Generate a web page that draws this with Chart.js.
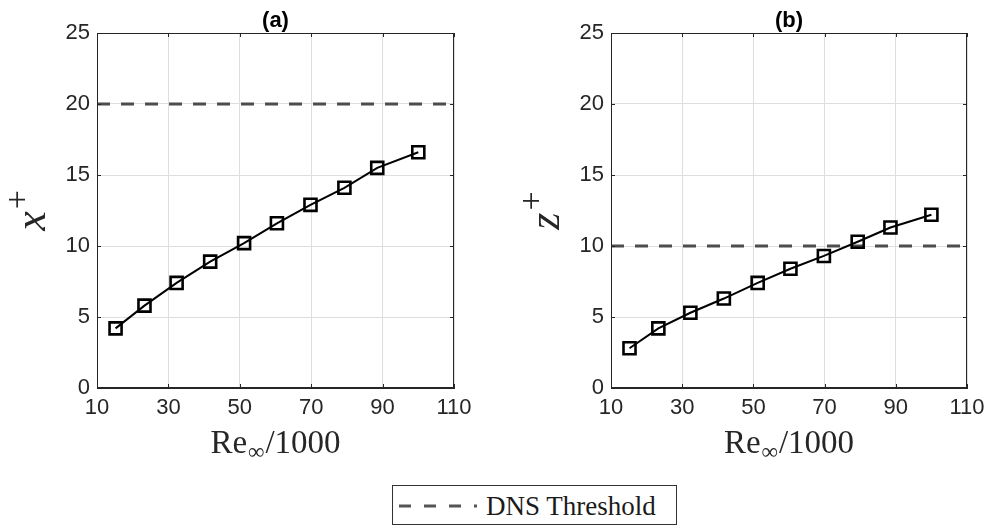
<!DOCTYPE html>
<html>
<head>
<meta charset="utf-8">
<script src="https://cdn.jsdelivr.net/npm/chart.js@4.4.1/dist/chart.umd.min.js"></script>
<style>
  html, body { margin: 0; padding: 0; background: #ffffff; }
  #wrap { position: relative; width: 992px; height: 527px; overflow: hidden; background: #fff; }
  #cA { position: absolute; left: 0; top: 0; }
  #cB { position: absolute; left: 496px; top: 0; }
  #legend { position: absolute; left: 392px; top: 485px; width: 283px; height: 38px;
            border: 1px solid #333; box-sizing: content-box; background: #fff; }
  #legend svg { position: absolute; left: 0; top: 0; }
  #legend span { position: absolute; left: 93px; top: 5px; font-family: "Liberation Serif", "Times New Roman", serif;
                 font-size: 27px; color: #1a1a1a; line-height: 30px; white-space: nowrap; }
</style>
</head>
<body>
<div id="wrap">
  <canvas id="cA" width="496" height="470"></canvas>
  <canvas id="cB" width="496" height="470"></canvas>
  <div id="legend">
    <svg width="90" height="38"><line x1="6" y1="20" x2="84" y2="20" stroke="#555555" stroke-width="3" stroke-dasharray="12,13"/></svg>
    <span>DNS Threshold</span>
  </div>
</div>
<script>
// ---- data ----
const reValues = [15.2, 23.3, 32.3, 41.7, 51.2, 60.4, 69.8, 79.3, 88.5, 100];
const xPlusValues = [4.2, 5.8, 7.4, 8.9, 10.2, 11.6, 12.9, 14.1, 15.5, 16.6];
const zPlusValues = [2.8, 4.2, 5.3, 6.3, 7.4, 8.4, 9.3, 10.3, 11.3, 12.2];
const thresholdX = 20;
const thresholdZ = 10;
const xTickValues = [10, 30, 50, 70, 90, 110];
const yTickValues = [0, 5, 10, 15, 20, 25];
const panelTitles = ['(a)', '(b)'];
const yLabelLetters = ['x', 'z'];

const AXIS = '#262626';

function overlayPlugin(title, letter) {
  return {
    id: 'overlay' + letter,
    afterDraw(chart) {
      const ctx = chart.ctx;
      const a = chart.chartArea;
      const xs = chart.scales.x, ys = chart.scales.y;
      ctx.save();
      // frame
      ctx.strokeStyle = AXIS;
      ctx.lineWidth = 1;
      ctx.strokeRect(Math.round(a.left) + 0.5, Math.round(a.top) + 0.5,
                     Math.round(a.right - a.left) - 1, Math.round(a.bottom - a.top) - 1);
      // inward ticks
      ctx.beginPath();
      xTickValues.forEach(v => {
        const px = Math.round(xs.getPixelForValue(v)) + 0.5;
        ctx.moveTo(px, a.bottom); ctx.lineTo(px, a.bottom - 4);
        ctx.moveTo(px, a.top); ctx.lineTo(px, a.top + 4);
      });
      yTickValues.forEach(v => {
        const py = Math.round(ys.getPixelForValue(v)) + 0.5;
        ctx.moveTo(a.left, py); ctx.lineTo(a.left + 4, py);
        ctx.moveTo(a.right, py); ctx.lineTo(a.right - 4, py);
      });
      ctx.stroke();
      // title
      const cx = (a.left + a.right) / 2;
      ctx.fillStyle = '#000';
      ctx.font = 'bold 22px "Liberation Sans", Arial, sans-serif';
      ctx.textAlign = 'center';
      ctx.textBaseline = 'alphabetic';
      ctx.fillText(title, cx, 27);
      // x-axis label: Re_inf/1000
      const big = '33px "Liberation Serif", "Times New Roman", serif';
      const small = '23px "Liberation Serif", "Times New Roman", serif';
      ctx.fillStyle = '#262626';
      ctx.font = big; const w1 = ctx.measureText('Re').width; const w3 = ctx.measureText('/1000').width;
      ctx.font = small; const w2 = ctx.measureText('∞').width + 2;
      const total = w1 + w2 + w3;
      let sx = cx - total / 2;
      const base = 453;
      ctx.textAlign = 'left';
      ctx.font = big; ctx.fillText('Re', sx, base);
      ctx.font = small; ctx.fillText('∞', sx + w1 + 1, base + 6);
      ctx.font = big; ctx.fillText('/1000', sx + w1 + w2, base);
      // y-axis label: letter^+
      const cy = (a.top + a.bottom) / 2;
      ctx.translate(a.left - 52, cy);
      ctx.rotate(-Math.PI / 2);
      ctx.font = 'italic 44px "Liberation Serif", "Times New Roman", serif';
      const lw = ctx.measureText(letter).width;
      ctx.font = '34px "Liberation Serif", "Times New Roman", serif';
      const pw = ctx.measureText('+').width;
      const tw = lw + pw + 2;
      ctx.font = 'italic 44px "Liberation Serif", "Times New Roman", serif';
      ctx.fillText(letter, -tw / 2, 0);
      ctx.font = '34px "Liberation Serif", "Times New Roman", serif';
      ctx.fillText('+', -tw / 2 + lw + 2, -17);
      ctx.restore();
    }
  };
}

function makeChart(id, values, threshold, title, letter, yWidth, rightPad) {
  const pts = reValues.map((x, i) => ({ x: x, y: values[i] }));
  const thr = [{ x: xTickValues[0], y: threshold }, { x: xTickValues[xTickValues.length - 1], y: threshold }];
  return new Chart(document.getElementById(id), {
    type: 'scatter',
    data: {
      datasets: [
        {
          label: 'data',
          data: pts,
          showLine: true,
          borderColor: '#000',
          borderWidth: 2,
          pointStyle: 'rect',
          pointRadius: 8.5,
          pointBorderWidth: 2.6,
          pointBackgroundColor: 'rgba(0,0,0,0)',
          pointBorderColor: '#000',
          order: 1
        },
        {
          label: 'DNS Threshold',
          data: thr,
          showLine: true,
          borderColor: '#4d4d4d',
          borderWidth: 3,
          borderDash: [13, 11],
          pointRadius: 0,
          order: 2
        }
      ]
    },
    options: {
      responsive: false,
      animation: false,
      devicePixelRatio: 1,
      layout: { padding: { top: 33, right: rightPad, left: 0, bottom: 0 } },
      plugins: { legend: { display: false }, tooltip: { enabled: false }, title: { display: false } },
      scales: {
        x: {
          type: 'linear', min: 10, max: 110,
          afterBuildTicks(s) { s.ticks = xTickValues.map(v => ({ value: v })); },
          afterFit(s) { s.height = 82; },
          ticks: { color: AXIS, padding: 7, font: { family: '"Liberation Sans", Arial, sans-serif', size: 22 } },
          grid: { color: '#dedede', lineWidth: 1, drawTicks: false },
          border: { color: AXIS, width: 1 }
        },
        y: {
          type: 'linear', min: 0, max: 25,
          afterBuildTicks(s) { s.ticks = yTickValues.map(v => ({ value: v })); },
          afterFit(s) { s.width = yWidth; },
          ticks: { color: AXIS, padding: 7, font: { family: '"Liberation Sans", Arial, sans-serif', size: 22 } },
          grid: { color: '#dedede', lineWidth: 1, drawTicks: false },
          border: { color: AXIS, width: 1 }
        }
      }
    },
    plugins: [overlayPlugin(title, letter)]
  });
}

makeChart('cA', xPlusValues, thresholdX, panelTitles[0], yLabelLetters[0], 97, 42);
makeChart('cB', zPlusValues, thresholdZ, panelTitles[1], yLabelLetters[1], 115, 25);
</script>
</body>
</html>
